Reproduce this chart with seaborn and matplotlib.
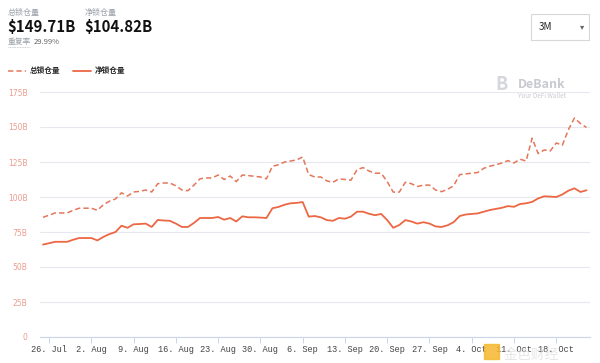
import numpy as np
import pandas as pd
import matplotlib
matplotlib.use("Agg")
import matplotlib.pyplot as plt
import matplotlib.dates as mdates
import seaborn as sns

# daily values, 25 Jul - 23 Oct (billions USD)
dates = pd.date_range("2021-07-25", "2021-10-23", freq="D")

total_tvl = [
    85.5, 87.0, 88.6, 88.6, 88.6, 90.5, 92.0, 92.0, 92.0, 90.5,
    94.5, 97.0, 98.6, 103.0, 100.7, 103.6, 104.0, 105.0, 103.6, 109.5,
    110.0, 110.0, 108.0, 105.0, 104.5, 108.5, 113.0, 113.6, 113.6, 115.7,
    112.5, 115.0, 111.0, 115.7, 115.3, 114.8, 114.3, 113.0, 122.0, 123.0,
    125.0, 125.7, 126.5, 128.6, 116.0, 114.3, 114.3, 111.5, 110.5, 113.0,
    112.5, 112.0, 119.5, 121.0, 118.5, 117.0, 117.0, 111.0, 103.5, 103.5,
    110.5, 109.5, 107.5, 108.5, 108.5, 105.0, 103.8, 105.5, 108.0, 116.0,
    116.5, 117.0, 117.5, 120.5, 122.0, 123.0, 124.3, 126.0, 124.3, 127.0,
    125.7, 142.0, 131.0, 133.6, 132.9, 138.6, 137.0, 148.0, 156.4, 152.5,
    149.7,
]

net_tvl = [
    66.0, 67.0, 68.0, 68.0, 68.0, 69.5, 70.7, 70.7, 70.7, 69.0,
    71.5, 73.5, 75.0, 79.5, 78.0, 80.5, 80.7, 81.0, 78.6, 83.6,
    83.2, 83.0, 81.0, 78.6, 78.6, 81.5, 85.0, 85.0, 85.0, 85.7,
    83.8, 85.0, 82.5, 86.2, 85.5, 85.5, 85.3, 85.0, 92.0, 92.9,
    94.5, 95.5, 95.8, 96.4, 86.0, 86.4, 85.5, 83.5, 83.0, 85.0,
    84.5, 86.0, 89.5, 89.5, 88.0, 87.0, 87.9, 83.5, 78.0, 80.0,
    83.5, 82.5, 81.0, 82.0, 81.0, 79.0, 78.6, 79.8, 82.0, 86.4,
    87.5, 87.9, 88.3, 89.5, 90.7, 91.5, 92.3, 93.5, 93.0, 95.0,
    95.5, 96.5, 99.0, 100.5, 100.3, 100.0, 101.8, 104.5, 106.2, 103.6,
    104.8,
]

y_ticks = [0, 25, 50, 75, 100, 125, 150, 175]
y_labels = ["0", "25B", "50B", "75B", "100B", "125B", "150B", "175B"]

df = pd.DataFrame({"date": dates, "total": total_tvl, "net": net_tvl})

sns.set_theme(style="white")
plt.rcParams["font.family"] = ["Noto Sans CJK SC", "DejaVu Sans"]

c_total = "#e4765a"
c_net = "#ec6744"

fig = plt.figure(figsize=(6, 3.63), dpi=100)
ax = fig.add_axes([40 / 600, 1 - 337 / 363, 550 / 600, 245 / 363])

sns.lineplot(data=df, x="date", y="total", ax=ax, color=c_total,
             linewidth=1.1, linestyle=(0, (3.5, 2)), label="总锁仓量")
sns.lineplot(data=df, x="date", y="net", ax=ax, color=c_net,
             linewidth=1.3, label="净锁仓量")

ax.set_xlim(pd.Timestamp("2021-07-24 12:00"), pd.Timestamp("2021-10-23 14:00"))
ax.set_ylim(0, 175)
ax.set_yticks(y_ticks)
ax.set_yticklabels(y_labels, color="#eb9d8e", fontsize=5.5, family="DejaVu Sans")
ax.yaxis.grid(True, color="#e6e7ef", linewidth=0.8)
ax.xaxis.grid(False)
ax.set_xlabel("")
ax.set_ylabel("")

ax.xaxis.set_major_locator(mdates.WeekdayLocator(byweekday=mdates.MO))
ax.xaxis.set_major_formatter(mdates.DateFormatter("%-d. %b"))
ax.tick_params(axis="x", length=4, width=0.7, color="#ccd6eb", pad=1.5,
               labelsize=6.2, labelcolor="#444444", bottom=True)
ax.tick_params(axis="y", length=0, pad=9)
for lbl in ax.get_xticklabels():
    lbl.set_family("Liberation Mono")

for side in ["top", "right", "left"]:
    ax.spines[side].set_visible(False)
ax.spines["bottom"].set_color("#ccd6eb")
ax.spines["bottom"].set_linewidth(0.8)

ax.get_legend().remove()
handles, labels = ax.get_legend_handles_labels()
fig.legend(handles, labels, loc="upper left", bbox_to_anchor=(0.002, 0.836),
           ncol=2, frameon=False, handlelength=2.4, handletextpad=0.5,
           columnspacing=1.6, prop={"size": 5.5, "weight": "bold"})

# header figures
fig.text(8 / 600, 1 - 12 / 363, "总锁仓量", fontsize=5.8, color="#9aa0a8", va="center")
fig.text(7 / 600, 1 - 27 / 363, "$149.71B", fontsize=10.8, color="#111111",
         va="center", fontweight="bold")
fig.text(85 / 600, 1 - 12 / 363, "净锁仓量", fontsize=5.8, color="#9aa0a8", va="center")
fig.text(84 / 600, 1 - 27 / 363, "$104.82B", fontsize=10.8, color="#111111",
         va="center", fontweight="bold")
fig.text(8 / 600, 1 - 42 / 363, "重复率", fontsize=5.6, color="#9aa0a8", va="center")
fig.add_artist(plt.Line2D([8 / 600, 30 / 600], [1 - 47 / 363, 1 - 47 / 363],
                          transform=fig.transFigure, color="#b8bcc4",
                          linewidth=0.6, linestyle=(0, (1, 1))))
fig.text(34 / 600, 1 - 42 / 363, "29.99%", fontsize=5.5, color="#666666", va="center")

# period selector
box = plt.Rectangle((531 / 600, 1 - 40 / 363), 58 / 600, 26 / 363,
                    transform=fig.transFigure, fill=False,
                    edgecolor="#d8d8d8", linewidth=0.8)
fig.add_artist(box)
fig.text(539 / 600, 1 - 27 / 363, "3M", fontsize=7, color="#222222", va="center")
fig.text(580 / 600, 1 - 27 / 363, "▾", fontsize=6, color="#666666", va="center")

# watermarks
fig.text(502 / 600, 1 - 85 / 363, "B", fontsize=13, color="#d5d7dc",
         fontweight="bold", va="center", ha="center")
fig.text(518 / 600, 1 - 84 / 363, "DeBank", fontsize=9, color="#c8cad0",
         fontweight="bold", va="center")
fig.text(518 / 600, 1 - 96 / 363, "Your DeFi Wallet", fontsize=4.5,
         color="#c8cad0", va="center")
logo = plt.Rectangle((484 / 600, 1 - 359 / 363), 15 / 600, 15 / 363,
                     transform=fig.transFigure, color="#f5b82e", alpha=0.85)
fig.add_artist(logo)
fig.text(504 / 600, 1 - 355 / 363, "金色财经", fontsize=10, color="#d6d6d6",
         alpha=0.6, va="center")

fig.savefig("out.png", dpi=100)
